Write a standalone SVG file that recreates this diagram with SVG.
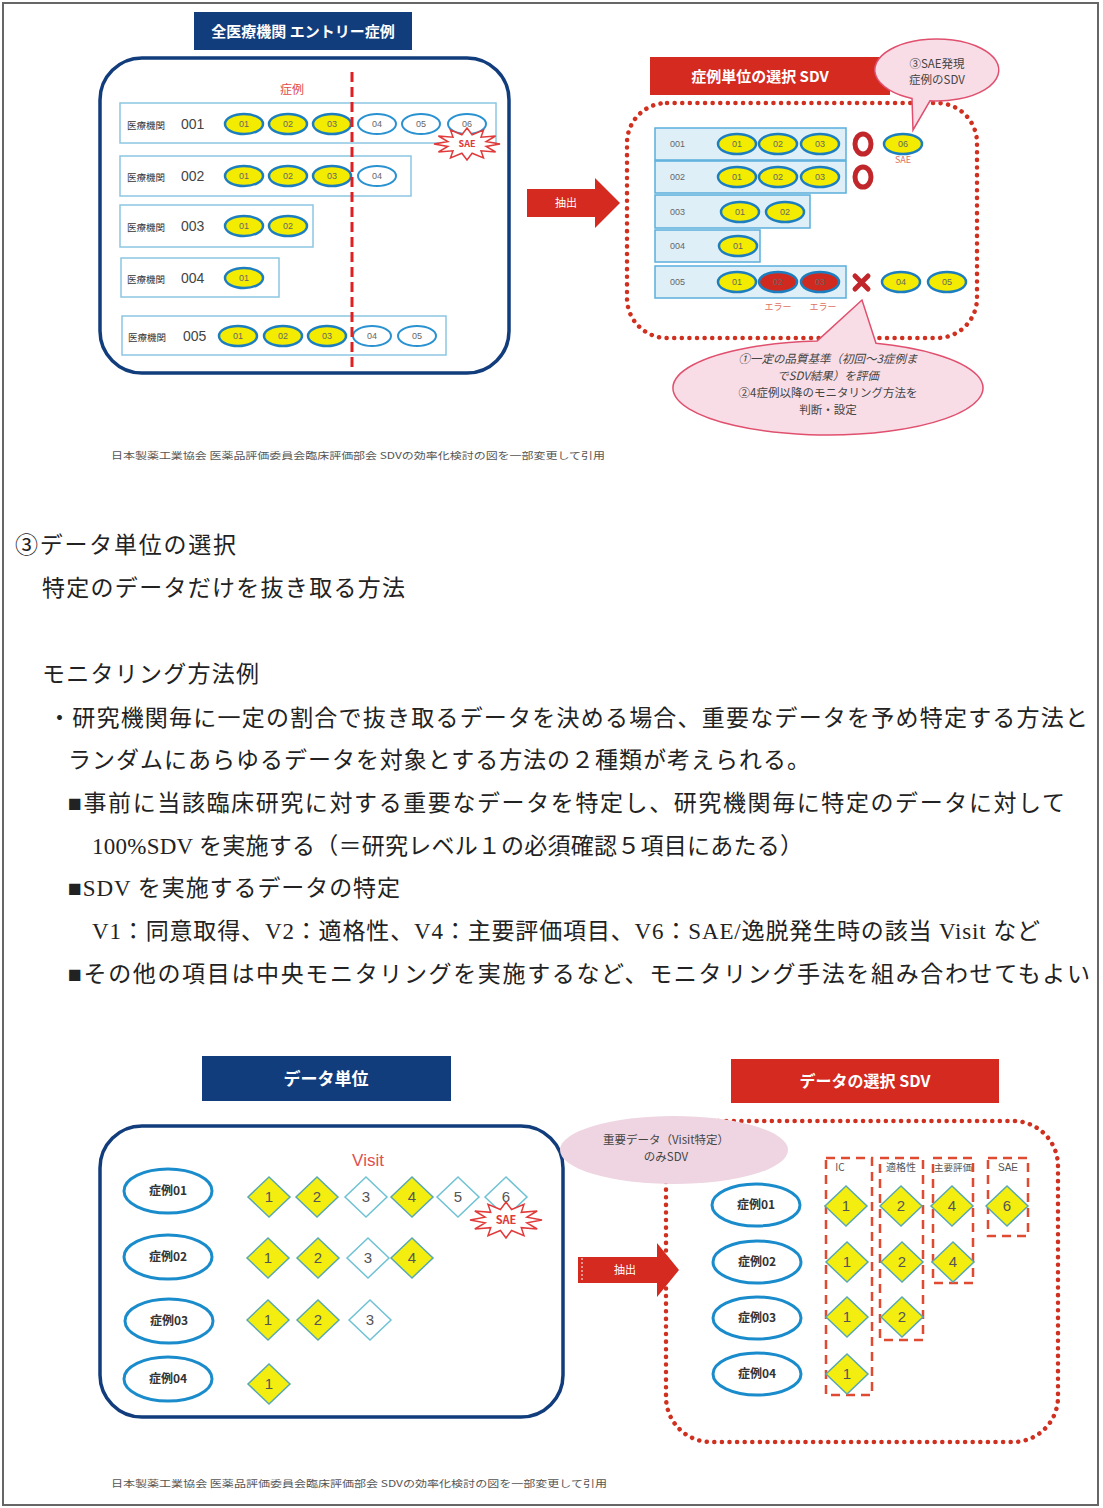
<svg xmlns="http://www.w3.org/2000/svg" xmlns:xlink="http://www.w3.org/1999/xlink" width="1103" height="1508" viewBox="0 0 1103 1508">
<style>
  .sans { font-family: "Noto Sans CJK JP", "Noto Sans", sans-serif; }
  .body { font-family: "Liberation Serif", "Noto Sans CJK JP", serif; font-size: 23px; fill: #222; }
  .navy { fill: #123d7c; }
  .redbar { fill: #d42a20; }
  .ttl { font-family: "Noto Sans CJK JP", sans-serif; fill: #fff; font-weight: bold; text-anchor: middle; }
  .frame { fill: #fff; stroke: #123d7c; stroke-width: 3.5; }
  .dots { fill: none; stroke: #d0301f; stroke-width: 4.5; stroke-dasharray: 0.1 7.5; stroke-linecap: round; }
  .row { fill: #fff; stroke: #8cc6e2; stroke-width: 1.5; }
  .rowb { fill: #deeff8; stroke: #5aaedb; stroke-width: 1.5; }
  .ovy { fill: #f3ec00; stroke: #1d7ebf; stroke-width: 2.5; }
  .ovw { fill: #fff; stroke: #2b92d2; stroke-width: 2; }
  .ovr { fill: #d02a20; stroke: #1d7ebf; stroke-width: 2.5; }
  .olab { font-family: "Liberation Sans", sans-serif; font-size: 9px; fill: #666; text-anchor: middle; }
  .mlab { font-family: "Noto Sans CJK JP", sans-serif; font-size: 9.5px; fill: #333; }
  .num { font-family: "Liberation Sans", sans-serif; font-size: 14px; fill: #444; }
  .rnum { font-family: "Liberation Sans", sans-serif; font-size: 9px; fill: #666; }
  .dy { fill: #f4ee10; stroke: #58a8b0; stroke-width: 1.5; }
  .dw { fill: #fff; stroke: #6ec2d4; stroke-width: 1.5; }
  .dlab { font-family: "Liberation Sans", sans-serif; font-size: 15px; fill: #555; text-anchor: middle; }
  .case { fill: #fff; stroke: #1a8ccc; stroke-width: 3; }
  .clab { font-family: "Noto Sans CJK JP", sans-serif; font-size: 12px; font-weight: bold; fill: #333; text-anchor: middle; }
  .star { fill: #fff; stroke: #e03a3a; stroke-width: 1.5; }
  .col { fill: none; stroke: #e04a30; stroke-width: 2.5; stroke-dasharray: 9 6; }
  .cite { font-family: "Noto Sans CJK JP", sans-serif; font-size: 9.5px; fill: #555; }
  .bubble { fill: #f8dde6; stroke: #e0506e; stroke-width: 1.5; }
  .btxt { font-family: "Noto Sans CJK JP", sans-serif; font-size: 11.5px; fill: #444; text-anchor: middle; }
</style>
<defs>
  <polygon id="starshape" vector-effect="non-scaling-stroke" points="1,0 0.58,0.155 0.866,0.5 0.424,0.424 0.5,0.866 0.155,0.58 0,1 -0.155,0.58 -0.5,0.866 -0.424,0.424 -0.866,0.5 -0.58,0.155 -1,0 -0.58,-0.155 -0.866,-0.5 -0.424,-0.424 -0.5,-0.866 -0.155,-0.58 0,-1 0.155,-0.58 0.5,-0.866 0.424,-0.424 0.866,-0.5 0.58,-0.155"/>
  <polygon id="dia" points="0,-20 21,0 0,20 -21,0"/>
</defs>

<rect x="3" y="3" width="1095" height="1502" fill="#fff" stroke="#666" stroke-width="2"/>

<!-- ===== Top-left: all institutions ===== -->
<g id="title-all">
  <rect class="navy" x="194" y="12" width="218" height="38"/>
  <text class="ttl" x="303" y="37" font-size="15">全医療機関 エントリー症例</text>
</g>
<g id="panel-all">
  <rect class="frame" x="100" y="58" width="409" height="315" rx="42"/>
  <text x="292" y="94" class="sans" font-size="12" fill="#e04a4a" text-anchor="middle">症例</text>
</g>
<g id="row-001">
  <rect class="row" x="120" y="103" width="376" height="40"/>
  <text class="mlab" x="127" y="129">医療機関</text><text class="num" x="181" y="129">001</text>
  <ellipse class="ovy" cx="244" cy="124" rx="19" ry="10"/><text class="olab" x="244" y="127">01</text>
  <ellipse class="ovy" cx="288" cy="124" rx="19" ry="10"/><text class="olab" x="288" y="127">02</text>
  <ellipse class="ovy" cx="332" cy="124" rx="19" ry="10"/><text class="olab" x="332" y="127">03</text>
  <ellipse class="ovw" cx="377" cy="124" rx="19" ry="10"/><text class="olab" x="377" y="127">04</text>
  <ellipse class="ovw" cx="421" cy="124" rx="19" ry="10"/><text class="olab" x="421" y="127">05</text>
  <ellipse class="ovw" cx="467" cy="124" rx="19" ry="10"/><text class="olab" x="467" y="127">06</text>
</g>
<g id="sae-top">
  <use xlink:href="#starshape" class="star" transform="translate(467,144) scale(33,16)"/>
  <text x="467" y="147" class="sans" font-size="9" font-weight="bold" fill="#e03a3a" text-anchor="middle">SAE</text>
</g>
<g id="row-002">
  <rect class="row" x="120" y="156" width="291" height="40"/>
  <text class="mlab" x="127" y="181">医療機関</text><text class="num" x="181" y="181">002</text>
  <ellipse class="ovy" cx="244" cy="176" rx="19" ry="10"/><text class="olab" x="244" y="179">01</text>
  <ellipse class="ovy" cx="288" cy="176" rx="19" ry="10"/><text class="olab" x="288" y="179">02</text>
  <ellipse class="ovy" cx="332" cy="176" rx="19" ry="10"/><text class="olab" x="332" y="179">03</text>
  <ellipse class="ovw" cx="377" cy="176" rx="19" ry="10"/><text class="olab" x="377" y="179">04</text>
</g>
<g id="row-003">
  <rect class="row" x="120" y="205" width="193" height="42"/>
  <text class="mlab" x="127" y="231">医療機関</text><text class="num" x="181" y="231">003</text>
  <ellipse class="ovy" cx="244" cy="226" rx="19" ry="10"/><text class="olab" x="244" y="229">01</text>
  <ellipse class="ovy" cx="288" cy="226" rx="19" ry="10"/><text class="olab" x="288" y="229">02</text>
</g>
<g id="row-004">
  <rect class="row" x="121" y="258" width="158" height="39"/>
  <text class="mlab" x="127" y="283">医療機関</text><text class="num" x="181" y="283">004</text>
  <ellipse class="ovy" cx="244" cy="278" rx="19" ry="10"/><text class="olab" x="244" y="281">01</text>
</g>
<g id="row-005">
  <rect class="row" x="122" y="316" width="324" height="39"/>
  <text class="mlab" x="128" y="341">医療機関</text><text class="num" x="183" y="341">005</text>
  <ellipse class="ovy" cx="238" cy="336" rx="19" ry="10"/><text class="olab" x="238" y="339">01</text>
  <ellipse class="ovy" cx="283" cy="336" rx="19" ry="10"/><text class="olab" x="283" y="339">02</text>
  <ellipse class="ovy" cx="327" cy="336" rx="19" ry="10"/><text class="olab" x="327" y="339">03</text>
  <ellipse class="ovw" cx="372" cy="336" rx="19" ry="10"/><text class="olab" x="372" y="339">04</text>
  <ellipse class="ovw" cx="417" cy="336" rx="19" ry="10"/><text class="olab" x="417" y="339">05</text>
</g>
<g id="cutoff-line">
  <line x1="352" y1="72" x2="352" y2="368" stroke="#e02020" stroke-width="3" stroke-dasharray="10 5"/>
</g>

<!-- ===== Top-right: case selection ===== -->
<g id="title-case">
  <rect class="redbar" x="650" y="57" width="240" height="38"/>
  <text class="ttl" x="760" y="82" font-size="15" font-weight="normal">症例単位の選択 SDV</text>
</g>
<g id="panel-case">
  <rect class="dots" x="627" y="103" width="350" height="235" rx="40"/>
</g>
<g id="callout-sae">
  <path class="bubble" d="M 912,98.4 L 913,130 L 930,100.8 A 62 31 0 1 0 912,98.4 Z"/>
  <text class="btxt" x="937" y="68" font-size="11">③SAE発現</text>
  <text class="btxt" x="937" y="84" font-size="11">症例のSDV</text>
</g>
<g id="rrow-001">
  <rect class="rowb" x="655" y="128" width="191" height="32"/>
  <text class="rnum" x="670" y="147">001</text>
  <ellipse class="ovy" cx="737" cy="144" rx="19" ry="10"/><text class="olab" x="737" y="147" font-size="8">01</text>
  <ellipse class="ovy" cx="778" cy="144" rx="19" ry="10"/><text class="olab" x="778" y="147" font-size="8">02</text>
  <ellipse class="ovy" cx="820" cy="144" rx="19" ry="10"/><text class="olab" x="820" y="147" font-size="8">03</text>
  <ellipse cx="863" cy="144" rx="8" ry="10" fill="none" stroke="#c0262a" stroke-width="5"/>
  <ellipse class="ovy" cx="903" cy="144" rx="19" ry="10"/><text class="olab" x="903" y="147" font-size="8">06</text>
  <text x="903" y="163" class="sans" font-size="9" fill="#e07060" text-anchor="middle">SAE</text>
</g>
<g id="rrow-002">
  <rect class="rowb" x="655" y="161" width="191" height="32"/>
  <text class="rnum" x="670" y="180">002</text>
  <ellipse class="ovy" cx="737" cy="177" rx="19" ry="10"/><text class="olab" x="737" y="180" font-size="8">01</text>
  <ellipse class="ovy" cx="778" cy="177" rx="19" ry="10"/><text class="olab" x="778" y="180" font-size="8">02</text>
  <ellipse class="ovy" cx="820" cy="177" rx="19" ry="10"/><text class="olab" x="820" y="180" font-size="8">03</text>
  <ellipse cx="863" cy="177" rx="8" ry="10" fill="none" stroke="#c0262a" stroke-width="5"/>
</g>
<g id="rrow-003">
  <rect class="rowb" x="655" y="195" width="155" height="33"/>
  <text class="rnum" x="670" y="215">003</text>
  <ellipse class="ovy" cx="740" cy="212" rx="19" ry="10"/><text class="olab" x="740" y="215" font-size="8">01</text>
  <ellipse class="ovy" cx="785" cy="212" rx="19" ry="10"/><text class="olab" x="785" y="215" font-size="8">02</text>
</g>
<g id="rrow-004">
  <rect class="rowb" x="655" y="230" width="105" height="32"/>
  <text class="rnum" x="670" y="249">004</text>
  <ellipse class="ovy" cx="738" cy="246" rx="19" ry="10"/><text class="olab" x="738" y="249" font-size="8">01</text>
</g>
<g id="rrow-005">
  <rect class="rowb" x="655" y="266" width="191" height="32"/>
  <text class="rnum" x="670" y="285">005</text>
  <ellipse class="ovy" cx="737" cy="282" rx="19" ry="10"/><text class="olab" x="737" y="285" font-size="8">01</text>
  <ellipse class="ovr" cx="778" cy="282" rx="19" ry="10"/><text class="olab" x="778" y="285" font-size="8" fill="#a02020">02</text>
  <ellipse class="ovr" cx="820" cy="282" rx="19" ry="10"/><text class="olab" x="820" y="285" font-size="8" fill="#a02020">03</text>
  <path d="M 855,276 L 868,289 M 868,276 L 855,289" stroke="#c0262a" stroke-width="5" stroke-linecap="round"/>
  <ellipse class="ovy" cx="901" cy="282" rx="19" ry="10"/><text class="olab" x="901" y="285" font-size="8">04</text>
  <ellipse class="ovy" cx="947" cy="282" rx="19" ry="10"/><text class="olab" x="947" y="285" font-size="8">05</text>
  <text x="778" y="310" class="sans" font-size="9" fill="#e07060" text-anchor="middle">エラー</text>
  <text x="823" y="310" class="sans" font-size="9" fill="#e07060" text-anchor="middle">エラー</text>
</g>
<g id="callout-quality">
  <path class="bubble" d="M 817,341.1 L 862,300 L 876,343.3 A 155 47 0 1 1 817,341.1 Z"/>
  <text class="btxt" x="828" y="363" font-style="italic">①一定の品質基準（初回～3症例ま</text>
  <text class="btxt" x="828" y="380" font-style="italic">でSDV結果）を評価</text>
  <text class="btxt" x="828" y="397">②4症例以降のモニタリング方法を</text>
  <text class="btxt" x="828" y="414">判断・設定</text>
</g>

<g id="cite-top">
  <text class="cite" x="111" y="459" textLength="494" lengthAdjust="spacingAndGlyphs">日本製薬工業協会 医薬品評価委員会臨床評価部会 SDVの効率化検討の図を一部変更して引用</text>
</g>

<!-- ===== Body text ===== -->
<g id="body-text">
  <text class="body" x="15" y="553" textLength="221" lengthAdjust="spacing">③データ単位の選択</text>
  <text class="body" x="42" y="596" textLength="363" lengthAdjust="spacing">特定のデータだけを抜き取る方法</text>
  <text class="body" x="42" y="682" textLength="217" lengthAdjust="spacing">モニタリング方法例</text>
  <text class="body" x="48" y="726" textLength="1040" lengthAdjust="spacing">・研究機関毎に一定の割合で抜き取るデータを決める場合、重要なデータを予め特定する方法と</text>
  <text class="body" x="68" y="768" textLength="742" lengthAdjust="spacing">ランダムにあらゆるデータを対象とする方法の２種類が考えられる。</text>
  <text class="body" x="68" y="811" textLength="997" lengthAdjust="spacing">■事前に当該臨床研究に対する重要なデータを特定し、研究機関毎に特定のデータに対して</text>
  <text class="body" x="92" y="854" textLength="711" lengthAdjust="spacing">100%SDV を実施する（＝研究レベル１の必須確認５項目にあたる）</text>
  <text class="body" x="68" y="896" textLength="332" lengthAdjust="spacing">■SDV を実施するデータの特定</text>
  <text class="body" x="92" y="939" textLength="948" lengthAdjust="spacing">V1：同意取得、V2：適格性、V4：主要評価項目、V6：SAE/逸脱発生時の該当 Visit など</text>
  <text class="body" x="68" y="982" textLength="1022" lengthAdjust="spacing">■その他の項目は中央モニタリングを実施するなど、モニタリング手法を組み合わせてもよい</text>
</g>

<!-- ===== Bottom-left: data unit ===== -->
<g id="title-data">
  <rect class="navy" x="202" y="1056" width="249" height="45"/>
  <text class="ttl" x="326" y="1085" font-size="17">データ単位</text>
</g>
<g id="panel-data">
  <rect class="frame" x="100" y="1126" width="463" height="291" rx="42"/>
  <text x="368" y="1166" font-family="Liberation Sans, sans-serif" font-size="17" fill="#e05050" text-anchor="middle">Visit</text>
</g>
<g id="case01">
  <ellipse class="case" cx="168" cy="1191" rx="44" ry="22"/><text class="clab" x="168" y="1195">症例01</text>
  <use xlink:href="#dia" class="dy" x="269" y="1197"/><text class="dlab" x="269" y="1202">1</text>
  <use xlink:href="#dia" class="dy" x="317" y="1197"/><text class="dlab" x="317" y="1202">2</text>
  <use xlink:href="#dia" class="dw" x="366" y="1197"/><text class="dlab" x="366" y="1202">3</text>
  <use xlink:href="#dia" class="dy" x="412" y="1197"/><text class="dlab" x="412" y="1202">4</text>
  <use xlink:href="#dia" class="dw" x="458" y="1197"/><text class="dlab" x="458" y="1202">5</text>
  <use xlink:href="#dia" class="dw" x="506" y="1197"/><text class="dlab" x="506" y="1202">6</text>
</g>
<g id="sae-bottom">
  <use xlink:href="#starshape" class="star" transform="translate(506,1220) scale(36,18)"/>
  <text x="506" y="1224" class="sans" font-size="11" font-weight="bold" fill="#e03a3a" text-anchor="middle">SAE</text>
</g>
<g id="case02">
  <ellipse class="case" cx="168" cy="1257" rx="44" ry="22"/><text class="clab" x="168" y="1261">症例02</text>
  <use xlink:href="#dia" class="dy" x="268" y="1258"/><text class="dlab" x="268" y="1263">1</text>
  <use xlink:href="#dia" class="dy" x="318" y="1258"/><text class="dlab" x="318" y="1263">2</text>
  <use xlink:href="#dia" class="dw" x="368" y="1258"/><text class="dlab" x="368" y="1263">3</text>
  <use xlink:href="#dia" class="dy" x="412" y="1258"/><text class="dlab" x="412" y="1263">4</text>
</g>
<g id="case03">
  <ellipse class="case" cx="169" cy="1321" rx="44" ry="22"/><text class="clab" x="169" y="1325">症例03</text>
  <use xlink:href="#dia" class="dy" x="268" y="1320"/><text class="dlab" x="268" y="1325">1</text>
  <use xlink:href="#dia" class="dy" x="318" y="1320"/><text class="dlab" x="318" y="1325">2</text>
  <use xlink:href="#dia" class="dw" x="370" y="1320"/><text class="dlab" x="370" y="1325">3</text>
</g>
<g id="case04">
  <ellipse class="case" cx="168" cy="1379" rx="44" ry="22"/><text class="clab" x="168" y="1383">症例04</text>
  <use xlink:href="#dia" class="dy" x="269" y="1384"/><text class="dlab" x="269" y="1389">1</text>
</g>

<!-- ===== Bottom-right: data selection ===== -->
<g id="title-datasel">
  <rect class="redbar" x="731" y="1059" width="268" height="44"/>
  <text class="ttl" x="865" y="1087" font-size="16" font-weight="normal">データの選択 SDV</text>
</g>
<g id="panel-datasel">
  <rect class="dots" x="666" y="1121" width="392" height="321" rx="45"/>
</g>
<g id="callout-important">
  <ellipse cx="674" cy="1150" rx="114" ry="34" fill="#eed5e1"/>
  <text class="btxt" x="666" y="1144" font-size="11">重要データ（Visit特定）</text>
  <text class="btxt" x="666" y="1161" font-size="11">のみSDV</text>
</g>
<g id="columns">
  <rect class="col" x="826" y="1158" width="46" height="237"/>
  <rect class="col" x="880" y="1158" width="43" height="182"/>
  <rect class="col" x="933" y="1158" width="40" height="125"/>
  <rect class="col" x="988" y="1158" width="40" height="78"/>
  <text x="840" y="1171" class="sans" font-size="10" fill="#555" text-anchor="middle">IC</text>
  <text x="901" y="1171" class="sans" font-size="10" fill="#555" text-anchor="middle">適格性</text>
  <text x="953" y="1171" class="sans" font-size="9.5" fill="#555" text-anchor="middle">主要評価</text>
  <text x="1008" y="1171" font-family="Liberation Sans, sans-serif" font-size="10" fill="#555" text-anchor="middle">SAE</text>
</g>
<g id="sel-case01">
  <ellipse class="case" cx="756" cy="1205" rx="44" ry="21"/><text class="clab" x="756" y="1209">症例01</text>
  <use xlink:href="#dia" class="dy" x="846" y="1206"/><text class="dlab" x="846" y="1211">1</text>
  <use xlink:href="#dia" class="dy" x="901" y="1206"/><text class="dlab" x="901" y="1211">2</text>
  <use xlink:href="#dia" class="dy" x="952" y="1206"/><text class="dlab" x="952" y="1211">4</text>
  <use xlink:href="#dia" class="dy" x="1007" y="1206"/><text class="dlab" x="1007" y="1211">6</text>
</g>
<g id="sel-case02">
  <ellipse class="case" cx="757" cy="1262" rx="44" ry="21"/><text class="clab" x="757" y="1266">症例02</text>
  <use xlink:href="#dia" class="dy" x="847" y="1262"/><text class="dlab" x="847" y="1267">1</text>
  <use xlink:href="#dia" class="dy" x="902" y="1262"/><text class="dlab" x="902" y="1267">2</text>
  <use xlink:href="#dia" class="dy" x="953" y="1262"/><text class="dlab" x="953" y="1267">4</text>
</g>
<g id="sel-case03">
  <ellipse class="case" cx="757" cy="1318" rx="44" ry="21"/><text class="clab" x="757" y="1322">症例03</text>
  <use xlink:href="#dia" class="dy" x="847" y="1317"/><text class="dlab" x="847" y="1322">1</text>
  <use xlink:href="#dia" class="dy" x="902" y="1317"/><text class="dlab" x="902" y="1322">2</text>
</g>
<g id="sel-case04">
  <ellipse class="case" cx="757" cy="1374" rx="44" ry="21"/><text class="clab" x="757" y="1378">症例04</text>
  <use xlink:href="#dia" class="dy" x="847" y="1374"/><text class="dlab" x="847" y="1379">1</text>
</g>

<g id="cite-bottom">
  <text class="cite" x="111" y="1487" textLength="496" lengthAdjust="spacingAndGlyphs">日本製薬工業協会 医薬品評価委員会臨床評価部会 SDVの効率化検討の図を一部変更して引用</text>
</g>

<!-- ===== Connectors ===== -->
<g id="connectors">
  <g id="arrow-extract-top">
    <polygon points="527,189 595,189 595,178 620,203 595,228 595,217 527,217" fill="#d42a20"/>
    <text x="566" y="207" class="sans" font-size="11" fill="#fff" text-anchor="middle">抽出</text>
  </g>
  <g id="arrow-extract-bottom">
    <polygon points="578,1257 657,1257 657,1243 679,1270 657,1297 657,1283 578,1283" fill="#d42a20"/>
    <line x1="582" y1="1258" x2="582" y2="1282" stroke="#fff" stroke-width="1" stroke-dasharray="2 2"/>
    <text x="625" y="1274" class="sans" font-size="11" fill="#fff" text-anchor="middle">抽出</text>
  </g>
</g>
</svg>
